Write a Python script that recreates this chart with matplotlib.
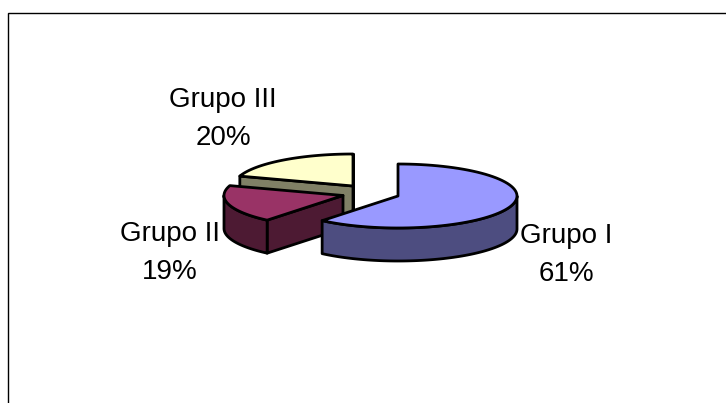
import numpy as np
import matplotlib
matplotlib.use("Agg")
import matplotlib.pyplot as plt
from matplotlib.patches import Polygon

categories = ["Grupo I", "Grupo II", "Grupo III"]
shares = [61, 19, 20]

top_colors = ["#9999FF", "#993366", "#FFFFCC"]
side_colors = ["#4D4D80", "#4D1A33", "#808066"]
centers = [(398, 196), (343, 195.5), (353, 186)]
label_pos = [(566, 255), (170, 253), (223, 119)]

RX, RY, DEPTH = 119, 32, 33
LW = 2.0

plt.rcParams["font.family"] = ["Liberation Sans", "DejaVu Sans"]
fig = plt.figure(figsize=(7.26, 4.03), dpi=100)
ax = fig.add_axes([0, 0, 1, 1])
ax.set_xlim(0, 726)
ax.set_ylim(403, 0)
ax.axis("off")


def rim(cx, cy, a0, a1, n=80):
    t = np.radians(np.linspace(a0, a1, n))
    return np.column_stack([cx + RX * np.sin(t), cy - RY * np.cos(t)])


def poly(pts, color, z):
    ax.add_patch(Polygon(pts, closed=True, facecolor=color, edgecolor="black",
                         linewidth=LW, joinstyle="round", zorder=z))


edges = np.concatenate([[0], np.cumsum(shares)]) / sum(shares) * 360.0
down = np.array([0, DEPTH])

for i in [2, 1, 0]:
    a0, a1 = edges[i], edges[i + 1]
    cx, cy = centers[i]
    z = 3 - i
    c = np.array([cx, cy], float)
    arc = rim(cx, cy, a0, a1)
    # radial cut faces, visible when they point towards the viewer
    if i == 2:
        p = arc[0]
        poly([c, p, p + down, c + down], side_colors[i], z)
        poly([c, c + down, arc[-1] + down, arc[-1]], side_colors[i], z)
    if i == 1:
        p = arc[0]
        poly([c, p, p + down, c + down], side_colors[i], z)
    # outer wall on the front half of the ellipse
    lo, hi = max(a0, 90), min(a1, 270)
    if lo < hi:
        wall = rim(cx, cy, lo, hi)
        poly(np.vstack([wall, (wall + down)[::-1]]), side_colors[i], z)
    poly(np.vstack([c, arc]), top_colors[i], z)

for name, v, (x, y) in zip(categories, shares, label_pos):
    ax.text(x, y, f"{name}\n{v}%", ha="center", va="center", fontsize=20,
            linespacing=1.6, color="black", zorder=5)

ax.plot([7.5, 7.5, 726], [403, 13, 13], color="black", lw=1.0,
        solid_joinstyle="miter", zorder=6)

fig.savefig("out.png", dpi=100)
